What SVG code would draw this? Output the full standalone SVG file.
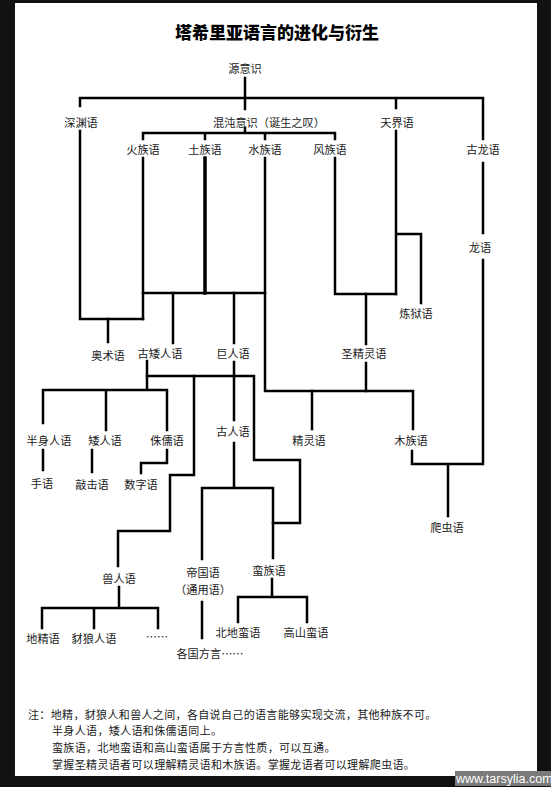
<svg xmlns="http://www.w3.org/2000/svg" width="551" height="787" viewBox="0 0 551 787">
<style>
.bg{fill:#111}
.paper{fill:#fff}
.lbl{font-family:"Noto Sans CJK SC","Noto Sans",sans-serif;font-size:11.2px;fill:#1a1a1a;text-anchor:middle;dominant-baseline:central}
.note{font-family:"Noto Sans CJK SC","Noto Sans",sans-serif;font-size:11px;letter-spacing:0.35px;fill:#1a1a1a;dominant-baseline:central}
.title{font-family:"Noto Sans CJK SC","Noto Sans",sans-serif;font-size:17px;font-weight:900;fill:#000;text-anchor:middle;dominant-baseline:central}
.ln{fill:none;stroke:#000;stroke-width:2.5;stroke-linecap:square;stroke-linejoin:miter}
.thick{stroke-width:3.5}
.wm{font-family:"Liberation Sans",Arial,sans-serif;font-size:12.5px;fill:#fff;dominant-baseline:central}
</style>
<rect class="bg" x="0" y="0" width="551" height="787"/>
<rect class="paper" x="15" y="3" width="522" height="773"/>
<text class="title" x="277" y="31">塔希里亚语言的进化与衍生</text>

<g id="connectors">
<path class="ln" d="M245,78 V98 M80,98 H483 M80,98 V106 M245,98 V109 M396,98 V108 M483,98 V139"/>
<path class="ln" d="M80,131 V319 H143"/>
<path class="ln" d="M245,128 V133 M143,133 H335 M143,133 V139 M205,133 V139 M265,133 V139 M335,133 V139"/>
<path class="ln" d="M143,158 V319"/>
<path class="ln thick" d="M205,158 V293"/>
<path class="ln" d="M265,158 V391 H413 V429"/>
<path class="ln" d="M143,293 H265"/>
<path class="ln" d="M108,319 V342 M173,293 V343 M234,293 V343"/>
<path class="ln" d="M335,158 V294 H396"/>
<path class="ln" d="M396,131 V294 M396,234 H421 V303"/>
<path class="ln" d="M366,294 V344 M366,363 V391 M312,391 V429"/>
<path class="ln" d="M483,163 V233 M483,260 V464 H412 V451 M448,464 V516"/>
<path class="ln" d="M147,361 V390 M43,390 H167 M43,390 V423 M106,390 V430 M167,390 V430"/>
<path class="ln" d="M147,376 H254 V460 H300 V523 H273"/>
<path class="ln" d="M194,376 V475 H170 V531 H118 V566"/>
<path class="ln" d="M234,362 V420 M234,443 V488 M202,488 H273 V558 M202,488 V559"/>
<path class="ln" d="M43,450 V470 M92,450 V472 M167,450 V463 H141 V473"/>
<path class="ln" d="M119,587 V608 M42,608 H158 M42,608 V628 M94,608 V628 M158,608 V628"/>
<path class="ln" d="M202,602 V638"/>
<path class="ln" d="M272,579 V597 M238,597 H307 M238,597 V622 M307,597 V622"/>
</g>

<g id="n_yuan"><text class="lbl" x="245" y="68">源意识</text></g>
<g id="n_shenyuan"><text class="lbl" x="81" y="122">深渊语</text></g>
<g id="n_hundun"><text class="lbl" x="269" y="122">混沌意识（诞生之叹）</text></g>
<g id="n_tianjie"><text class="lbl" x="397" y="122">天界语</text></g>
<g id="n_huo"><text class="lbl" x="143" y="149">火族语</text></g>
<g id="n_tu"><text class="lbl" x="205" y="149">土族语</text></g>
<g id="n_shui"><text class="lbl" x="265" y="149">水族语</text></g>
<g id="n_feng"><text class="lbl" x="330" y="149">风族语</text></g>
<g id="n_gulong"><text class="lbl" x="483" y="149">古龙语</text></g>
<g id="n_long"><text class="lbl" x="480" y="247">龙语</text></g>
<g id="n_lianyu"><text class="lbl" x="416" y="313">炼狱语</text></g>
<g id="n_aoshu"><text class="lbl" x="108" y="355">奥术语</text></g>
<g id="n_guai"><text class="lbl" x="160" y="353">古矮人语</text></g>
<g id="n_juren"><text class="lbl" x="233" y="353">巨人语</text></g>
<g id="n_shengjingling"><text class="lbl" x="364" y="353">圣精灵语</text></g>
<g id="n_guren"><text class="lbl" x="233" y="431">古人语</text></g>
<g id="n_banshen"><text class="lbl" x="49" y="440">半身人语</text></g>
<g id="n_airen"><text class="lbl" x="105" y="440">矮人语</text></g>
<g id="n_zhuru"><text class="lbl" x="167" y="440">侏儒语</text></g>
<g id="n_jingling"><text class="lbl" x="309" y="440">精灵语</text></g>
<g id="n_muzu"><text class="lbl" x="411" y="440">木族语</text></g>
<g id="n_shou"><text class="lbl" x="42" y="483">手语</text></g>
<g id="n_qiaoji"><text class="lbl" x="92" y="484">敲击语</text></g>
<g id="n_shuzi"><text class="lbl" x="141" y="484">数字语</text></g>
<g id="n_pachong"><text class="lbl" x="447" y="527">爬虫语</text></g>
<g id="n_manzu"><text class="lbl" x="269" y="570">蛮族语</text></g>
<g id="n_diguo"><text class="lbl" x="203" y="572">帝国语</text><text class="lbl" x="203" y="589">（通用语）</text></g>
<g id="n_shouren"><text class="lbl" x="119" y="578">兽人语</text></g>
<g id="n_beidi"><text class="lbl" x="238" y="632">北地蛮语</text></g>
<g id="n_gaoshan"><text class="lbl" x="306" y="632">高山蛮语</text></g>
<g id="n_dijing"><text class="lbl" x="43" y="638">地精语</text></g>
<g id="n_chailang"><text class="lbl" x="94" y="638">豺狼人语</text></g>
<g id="n_dots"><text class="lbl" x="157" y="636">……</text></g>
<g id="n_geguo"><text class="lbl" x="210" y="653">各国方言……</text></g>

<g id="notes">
<text class="note" x="28" y="714">注：地精，豺狼人和兽人之间，各自说自己的语言能够实现交流，其他种族不可。</text>
<text class="note" x="52" y="730">半身人语，矮人语和侏儒语同上。</text>
<text class="note" x="52" y="747">蛮族语，北地蛮语和高山蛮语属于方言性质，可以互通。</text>
<text class="note" x="52" y="764">掌握圣精灵语者可以理解精灵语和木族语。掌握龙语者可以理解爬虫语。</text>
</g>

<g id="watermark">
<rect x="455" y="771" width="96" height="15" fill="#7a7a7a"/>
<text class="wm" x="456" y="779">www.tarsylia.com</text>
</g>
</svg>
